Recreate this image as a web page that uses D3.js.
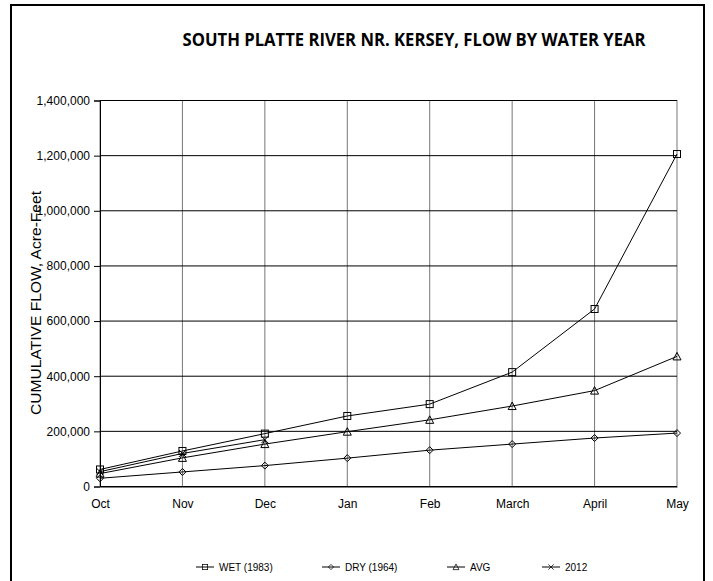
<!DOCTYPE html>
<html>
<head>
<meta charset="utf-8">
<script src="https://cdn.jsdelivr.net/npm/d3@7"></script>
<style>
	body { margin: 0; background: #fff; }
	text { font-family: "Liberation Sans", Arial, sans-serif; fill: #000; }
</style>
</head>
<body>
<div id="chart"></div>
<script>
let months = ["Oct", "Nov", "Dec", "Jan", "Feb", "March", "April", "May"];
let wet = [60000, 127000, 190000, 254000, 297000, 413000, 642000, 1204000];
let dry = [28000, 51000, 74000, 101000, 130000, 152000, 174000, 192000];
let avg = [45000, 102000, 152000, 197000, 240000, 290000, 346000, 470000];
let y2012 = [52000, 118000, 168000];
let yTicks = [0, 200000, 400000, 600000, 800000, 1000000, 1200000, 1400000];

let width = 713;
let height = 581;
let margin = ({top: 100, right: 36, bottom: 95, left: 100});

const svg = d3.select("#chart").append("svg")
	.attr("width", width)
	.attr("height", height);

// outer frame
svg.append("rect")
	.attr("x", 11).attr("y", 5)
	.attr("width", 693).attr("height", 600)
	.attr("fill", "none").attr("stroke", "#000").attr("stroke-width", 2);

let x = d3.scalePoint()
	.domain(months)
	.range([margin.left, width - margin.right]);

let y = d3.scaleLinear()
	.domain([0, 1400000])
	.range([height - margin.bottom, margin.top]);

// grid
svg.append("g")
	.selectAll("line")
	.data(months)
	.enter().append("line")
	.attr("x1", d => x(d)).attr("x2", d => x(d))
	.attr("y1", y(0)).attr("y2", y(1400000))
	.attr("stroke", "#777").attr("stroke-width", 1);

svg.append("g")
	.selectAll("line")
	.data(yTicks)
	.enter().append("line")
	.attr("x1", margin.left).attr("x2", width - margin.right)
	.attr("y1", d => y(d) + 0.5).attr("y2", d => y(d) + 0.5)
	.attr("stroke", "#000").attr("stroke-width", 1);

// axes
let yAxis = g => g
	.attr("transform", `translate(${margin.left},0.5)`)
	.call(d3.axisLeft(y).tickValues(yTicks).tickSize(6).tickPadding(4).tickFormat(d3.format(",")))
	.call(g => g.select(".domain").attr("stroke", "#000"))
	.call(g => g.selectAll("text").style("font-size", "12px").style("font-family", "Liberation Sans, Arial"));

let xAxis = g => g
	.attr("transform", `translate(0,${y(0) + 0.5})`)
	.call(d3.axisBottom(x).tickSize(0).tickPadding(13))
	.call(g => g.select(".domain").attr("stroke", "#000"))
	.call(g => g.selectAll("text").style("font-size", "12px").style("font-family", "Liberation Sans, Arial"));

svg.append("g").call(yAxis);
svg.append("g").call(xAxis);

// titles
svg.append("text")
	.attr("x", 414).attr("y", 46)
	.attr("text-anchor", "middle")
	.attr("textLength", 463)
	.attr("lengthAdjust", "spacingAndGlyphs")
	.style("font-family", "Open Sans, sans-serif")
	.style("font-weight", "bold")
	.style("font-size", "17px")
	.text("SOUTH PLATTE RIVER NR. KERSEY, FLOW BY WATER YEAR");

svg.append("text")
	.attr("transform", "translate(41,303) rotate(-90)")
	.attr("text-anchor", "middle")
	.attr("textLength", 224)
	.attr("lengthAdjust", "spacingAndGlyphs")
	.style("font-size", "14px")
	.text("CUMULATIVE FLOW, Acre-Feet");

// markers
const markers = {
	square: (g) => g.append("rect").attr("x", -3.5).attr("y", -3.5).attr("width", 7).attr("height", 7),
	diamond: (g) => g.append("path").attr("d", "M0,-3.5L3.5,0L0,3.5L-3.5,0Z"),
	triangle: (g) => g.append("path").attr("d", "M0,-4L4,3.5L-4,3.5Z"),
	cross: (g) => g.append("path").attr("d", "M-3.5,-3.5L3.5,3.5M-3.5,3.5L3.5,-3.5")
};

let series = [
	{name: "WET (1983)", values: wet, marker: "square", lx: 196},
	{name: "DRY (1964)", values: dry, marker: "diamond", lx: 322},
	{name: "AVG", values: avg, marker: "triangle", lx: 447},
	{name: "2012", values: y2012, marker: "cross", lx: 542}
];

let line = d3.line()
	.x((d, i) => x(months[i]))
	.y(d => y(d));

series.forEach(s => {
	svg.append("path")
		.attr("d", line(s.values))
		.attr("fill", "none")
		.attr("stroke", "#000")
		.attr("stroke-width", 1);

	s.values.forEach((v, i) => {
		const g = svg.append("g")
			.attr("transform", `translate(${x(months[i])},${y(v)})`)
			.attr("fill", "none").attr("stroke", "#000").attr("stroke-width", 1);
		markers[s.marker](g);
	});

	// legend
	const lg = svg.append("g").attr("transform", `translate(${s.lx},567)`);
	lg.append("line").attr("x1", 0).attr("x2", 18).attr("y1", 0).attr("y2", 0)
		.attr("stroke", "#000");
	const m = lg.append("g").attr("transform", "translate(9,0) scale(0.75)")
		.attr("fill", "none").attr("stroke", "#000");
	markers[s.marker](m);
	lg.append("text").attr("x", 23).attr("y", 4)
		.style("font-size", "10px")
		.text(s.name);
});
</script>
</body>
</html>
